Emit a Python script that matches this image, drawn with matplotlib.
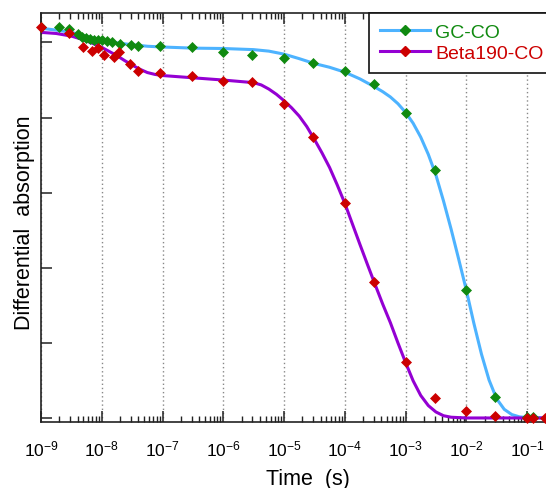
import matplotlib
matplotlib.use("Agg")
import matplotlib.pyplot as plt
from matplotlib.lines import Line2D
import numpy as np

plt.rcParams['font.family'] = ['Liberation Sans', 'DejaVu Sans']

# measured points, GC-CO
gc_t = [1e-9, 2e-9, 2.9e-9, 4e-9, 4.7e-9, 5.4e-9, 6.4e-9, 7.5e-9, 8.8e-9, 1e-8,
        1.2e-8, 1.5e-8, 2e-8, 3e-8, 3.9e-8, 9e-8, 3e-7, 1e-6, 3e-6, 1e-5,
        3e-5, 1e-4, 3e-4, 1e-3, 3e-3, 1e-2, 3e-2, 1e-1, 1.25e-1]
gc_y = [1.040, 1.042, 1.036, 1.023, 1.015, 1.012, 1.009, 1.007, 1.007, 1.007,
        1.005, 1.002, 0.996, 0.993, 0.991, 0.991, 0.987, 0.976, 0.968, 0.958,
        0.945, 0.925, 0.889, 0.812, 0.660, 0.341, 0.057, 0.003, 0.003]

# measured points, Beta190-CO
beta_t = [1e-9, 2.9e-9, 5e-9, 6.8e-9, 8.8e-9, 1.09e-8, 1.6e-8, 1.95e-8, 2.9e-8, 3.9e-8,
          9e-8, 3e-7, 1e-6, 3e-6, 1e-5, 3e-5, 1e-4, 3e-4, 1e-3, 3e-3,
          1e-2, 3e-2, 1e-1, 1.25e-1, 2e-1]
beta_y = [1.040, 1.025, 0.987, 0.978, 0.985, 0.968, 0.961, 0.974, 0.943, 0.925,
          0.920, 0.910, 0.898, 0.896, 0.835, 0.748, 0.572, 0.363, 0.148, 0.052,
          0.018, 0.005, 0.0, 0.0, 0.0]

# fitted curves (log10 of time)
gc_fit_logt = [-9.0, -8.75, -8.5, -8.25, -8.0, -7.75, -7.5, -7.25, -7.0, -6.5, -6.0, -5.5,
               -5.25, -5.0, -4.75, -4.5, -4.25, -4.0, -3.75, -3.5, -3.375, -3.25, -3.125,
               -3.0, -2.875, -2.75, -2.625, -2.5, -2.375, -2.25, -2.125, -2.0, -1.875,
               -1.75, -1.625, -1.5, -1.375, -1.25, -1.125, -1.0, -0.68]
gc_fit = [1.038, 1.033, 1.027, 1.016, 1.006, 0.999, 0.994, 0.990, 0.988, 0.985, 0.984, 0.981,
          0.977, 0.969, 0.957, 0.944, 0.934, 0.921, 0.903, 0.881, 0.869, 0.855, 0.837,
          0.814, 0.785, 0.748, 0.702, 0.647, 0.578, 0.503, 0.423, 0.341, 0.252,
          0.170, 0.101, 0.051, 0.023, 0.009, 0.003, 0.001, 0.0]

beta_fit_logt = [-9.0, -8.75, -8.5, -8.375, -8.25, -8.125, -8.0, -7.875, -7.75, -7.625,
                 -7.5, -7.375, -7.25, -7.125, -7.0, -6.5, -6.0, -5.5, -5.375, -5.25,
                 -5.125, -5.0, -4.875, -4.75, -4.625, -4.5, -4.375, -4.25, -4.125, -4.0,
                 -3.875, -3.75, -3.625, -3.5, -3.375, -3.25, -3.125, -3.0, -2.875, -2.75,
                 -2.625, -2.5, -2.375, -2.25, -2.0, -0.68]
beta_fit = [1.027, 1.024, 1.017, 1.011, 1.004, 0.996, 0.987, 0.976, 0.965, 0.952,
            0.940, 0.929, 0.920, 0.915, 0.912, 0.906, 0.900, 0.893, 0.887, 0.876,
            0.862, 0.845, 0.826, 0.804, 0.776, 0.742, 0.706, 0.667, 0.621, 0.572,
            0.517, 0.462, 0.408, 0.355, 0.303, 0.254, 0.200, 0.148, 0.099, 0.060,
            0.033, 0.016, 0.006, 0.002, 0.0, 0.0]

blue = '#4db3ff'
purple = '#9400d3'
green = '#108a10'
red = '#cc0000'

fig = plt.figure(figsize=(5.46, 4.89), dpi=100)
ax = fig.add_axes([0.0751, 0.135, 0.925, 0.8364])

ax.plot(10 ** np.array(gc_fit_logt), gc_fit, color=blue, lw=2.2, zorder=2)
ax.plot(10 ** np.array(beta_fit_logt), beta_fit, color=purple, lw=2.2, zorder=2)
ax.plot(gc_t, gc_y, ls='none', marker='D', ms=5.4, mfc=green, mec=green, mew=0.5, zorder=3)
ax.plot(beta_t, beta_y, ls='none', marker='D', ms=5.4, mfc=red, mec=red, mew=0.5, zorder=4, clip_on=False)

ax.set_xscale('log')
ax.set_xlim(1e-9, 10 ** -0.687)
ax.set_ylim(-0.0107, 1.0786)
ax.set_yticks([0, 0.2, 0.4, 0.6, 0.8, 1.0])
ax.set_yticklabels([])
ax.set_xticks([10.0 ** k for k in range(-9, 0)])

ax.grid(axis='x', which='major', color='#888888', ls=(0, (1, 2)), lw=1.0)
ax.tick_params(which='both', direction='in', top=True, right=False, color='#222222')
ax.tick_params(which='major', length=8, width=1.1, labelsize=12.5, pad=12)
ax.tick_params(which='minor', length=4.3, width=1.0)
ax.tick_params(axis='y', which='minor', left=False)
for s in ['left', 'top', 'bottom']:
    ax.spines[s].set_linewidth(1.2)
    ax.spines[s].set_color('#222222')
ax.spines['right'].set_visible(False)

ax.set_xlabel('Time  (s)', fontsize=15.5)
ax.xaxis.set_label_coords(0.529, -0.112)
ax.set_ylabel('Differential  absorption', fontsize=15.5)
ax.yaxis.set_label_coords(-0.011, 0.489)

handles = [Line2D([], [], color=blue, lw=2.2, marker='D', ms=5.4, mfc=green, mec=green),
           Line2D([], [], color=purple, lw=2.2, marker='D', ms=5.4, mfc=red, mec=red)]
leg = ax.legend(handles, ['GC-CO', 'Beta190-CO'], loc='upper left',
                bbox_to_anchor=((369 - 41) / 505, 1.0), borderaxespad=0,
                fontsize=14, handlelength=2.6, handletextpad=0.25, labelspacing=0.15,
                borderpad=0.55, fancybox=False, framealpha=1, edgecolor='#111111',
                labelcolor=[green, red])
leg.get_frame().set_linewidth(1.2)

fig.savefig('out.png', dpi=100)
